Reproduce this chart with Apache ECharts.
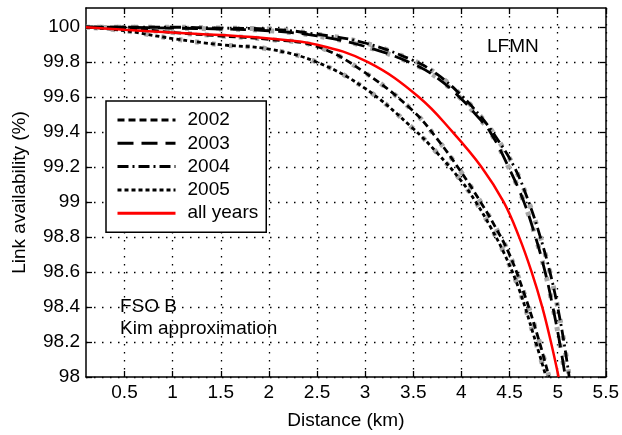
<!DOCTYPE html>
<html><head><meta charset="utf-8">
<script src="https://cdn.jsdelivr.net/npm/echarts@6/dist/echarts.min.js"></script>
<style>html,body{margin:0;padding:0;background:#fff}#c{width:622px;height:435px}</style>
</head><body><div id="c"></div>
<script>
const xTicks = [0.5, 1, 1.5, 2, 2.5, 3, 3.5, 4, 4.5, 5, 5.5];
const yTicks = [98, 98.2, 98.4, 98.6, 98.8, 99, 99.2, 99.4, 99.6, 99.8, 100];

const dist2002 = [0.1, 0.5, 1.0, 1.5, 2.0, 2.5, 3.0, 3.5, 3.75, 4.0, 4.2, 4.35, 4.5, 4.65, 4.8, 4.91];
const avail2002 = [100.0, 99.995, 99.97, 99.95, 99.93, 99.89, 99.74, 99.52, 99.36, 99.17, 99.0, 98.86, 98.7, 98.48, 98.22, 98.0];

const dist2003 = [0.1, 0.5, 1.0, 1.5, 2.0, 2.5, 3.0, 3.5, 3.75, 4.0, 4.15, 4.3, 4.49, 4.65, 4.77, 4.87, 4.95, 5.02, 5.08];
const avail2003 = [100.0, 100.0, 99.995, 99.99, 99.98, 99.95, 99.89, 99.79, 99.71, 99.59, 99.5, 99.4, 99.2, 99.0, 98.8, 98.6, 98.4, 98.2, 98.0];

const dist2004 = [0.1, 0.5, 1.0, 1.5, 2.0, 2.5, 3.0, 3.5, 3.75, 4.0, 4.2, 4.35, 4.55, 4.7, 4.82, 4.92, 5.0, 5.065, 5.12];
const avail2004 = [100.0, 100.0, 100.0, 99.995, 99.99, 99.96, 99.91, 99.81, 99.73, 99.61, 99.49, 99.38, 99.2, 99.0, 98.8, 98.6, 98.4, 98.2, 98.0];

const dist2005 = [0.1, 0.5, 1.0, 1.5, 2.0, 2.5, 3.0, 3.5, 3.75, 4.0, 4.15, 4.3, 4.45, 4.6, 4.75, 4.88];
const avail2005 = [100.0, 99.98, 99.935, 99.9, 99.875, 99.80, 99.65, 99.42, 99.28, 99.12, 99.0, 98.86, 98.7, 98.5, 98.24, 98.0];

const distAll = [0.1, 0.5, 1.0, 1.5, 2.0, 2.5, 3.03, 3.56, 3.91, 4.21, 4.44, 4.6, 4.73, 4.84, 4.93, 5.01];
const availAll = [100.0, 99.985, 99.97, 99.955, 99.935, 99.9, 99.8, 99.6, 99.4, 99.2, 99.0, 98.8, 98.6, 98.4, 98.2, 98.0];

const seriesNames = ['2002', '2003', '2004', '2005', 'all years'];

const pairs = (xs, ys) => xs.map((x, i) => [x, ys[i]]);
const FONT = 'Liberation Sans, Arial, Helvetica, sans-serif';

const dashStyles = {
  '2002': [7, 4],
  '2003': [16, 8],
  '2004': [11, 4, 2, 4],
  '2005': [4, 3]
};
const yearData = {
  '2002': pairs(dist2002, avail2002),
  '2003': pairs(dist2003, avail2003),
  '2004': pairs(dist2004, avail2004),
  '2005': pairs(dist2005, avail2005)
};

const SMOOTH = 0.4;
const series = [];
['2002', '2003', '2004', '2005'].forEach((y, k) => {
  series.push({
    name: 'gray' + y, type: 'line', data: yearData[y], symbol: 'none',
    smooth: SMOOTH, silent: true, z: 1, legendHoverLink: false,
    lineStyle: { color: '#a8a8a8', width: 5, type: [4, 13], dashOffset: k * 3 }
  });
});
['2002', '2003', '2004', '2005'].forEach(y => {
  series.push({
    name: y, type: 'line', data: yearData[y], symbol: 'none',
    smooth: SMOOTH, z: 3,
    lineStyle: { color: '#000', width: 2.8, type: dashStyles[y] },
    itemStyle: { color: '#000' }
  });
});
series.push({
  name: 'all years', type: 'line', data: pairs(distAll, availAll), symbol: 'none',
  smooth: SMOOTH, z: 4,
  lineStyle: { color: '#ff0000', width: 2.5, type: 'solid' },
  itemStyle: { color: '#ff0000' }
});

const gridLine = { show: true, lineStyle: { color: '#000', width: 1.3, type: [1.5, 6.5] } };
const frame = { show: true, onZero: false, lineStyle: { color: '#000', width: 1.5 } };
const tickStyle = { show: true, inside: true, length: 6, lineStyle: { color: '#000', width: 1.3 } };

const chart = echarts.init(document.getElementById('c'), null, { renderer: 'canvas' });
chart.setOption({
  animation: false,
  backgroundColor: '#fff',
  grid: { left: 86, right: 10, top: 8, bottom: 56, containLabel: false },
  legend: {
    show: true,
    data: seriesNames,
    orient: 'vertical', left: 106, top: 101,
    padding: [9.5, 8, 9.5, 10],
    itemWidth: 58, itemHeight: 14, itemGap: 4.3,
    backgroundColor: '#fff', borderColor: '#000', borderWidth: 1.5, borderRadius: 0,
    textStyle: { fontFamily: FONT, fontSize: 19, color: '#000', padding: [0, 0, 0, 7] },
    itemStyle: { opacity: 0 },
    lineStyle: { width: 3 },
    selectedMode: false,
    z: 20
  },
  xAxis: [{
    type: 'value', min: 0.1, max: 5.5, position: 'bottom',
    name: 'Distance (km)', nameLocation: 'middle', nameGap: 34,
    nameTextStyle: { fontFamily: FONT, fontSize: 19, color: '#000' },
    axisLine: frame, axisTick: Object.assign({ customValues: xTicks }, tickStyle),
    axisLabel: { customValues: xTicks, fontFamily: FONT, fontSize: 19, color: '#000', margin: 6 },
    splitLine: gridLine
  }, {
    type: 'value', min: 0.1, max: 5.5, position: 'top',
    axisLine: frame, axisTick: Object.assign({ customValues: xTicks }, tickStyle),
    axisLabel: { show: false }, splitLine: { show: false }
  }],
  yAxis: [{
    type: 'value', min: 98, max: 100.11, position: 'left',
    name: 'Link availability (%)', nameLocation: 'middle', nameGap: 57,
    nameTextStyle: { fontFamily: FONT, fontSize: 19, color: '#000' },
    axisLine: frame, axisTick: Object.assign({ customValues: yTicks }, tickStyle),
    axisLabel: { customValues: yTicks, fontFamily: FONT, fontSize: 19, color: '#000', margin: 6,
      formatter: v => String(Math.round(v * 10) / 10) },
    splitLine: gridLine
  }, {
    type: 'value', min: 98, max: 100.11, position: 'right',
    axisLine: frame, axisTick: Object.assign({ customValues: yTicks }, tickStyle),
    axisLabel: { show: false }, splitLine: { show: false }
  }],
  graphic: [
    { type: 'text', left: 487, top: 37, z: 10, style: { text: 'LFMN', fontFamily: FONT, fontSize: 19, fill: '#000' } },
    { type: 'text', left: 120, top: 297, z: 10, style: { text: 'FSO B', fontFamily: FONT, fontSize: 19, fill: '#000' } },
    { type: 'text', left: 120, top: 319, z: 10, style: { text: 'Kim approximation', fontFamily: FONT, fontSize: 19, fill: '#000' } }
  ],
  series: series
});
</script></body></html>
